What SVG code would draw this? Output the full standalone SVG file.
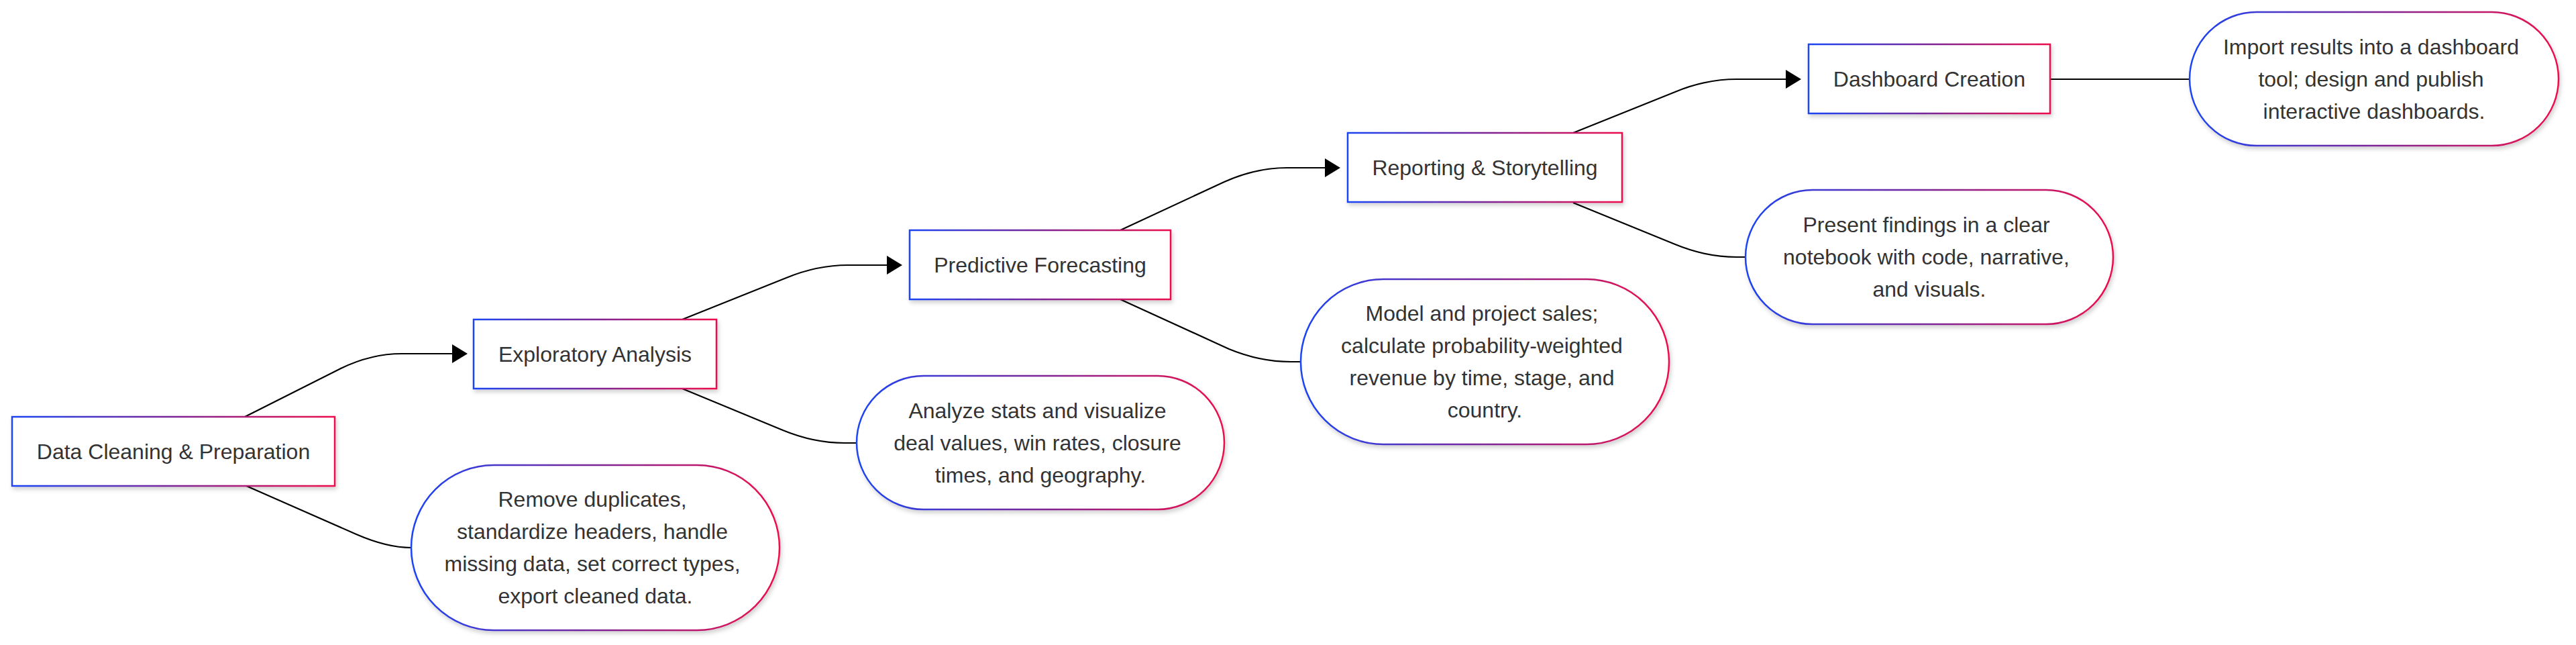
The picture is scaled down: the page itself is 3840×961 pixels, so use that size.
<svg xmlns="http://www.w3.org/2000/svg" width="3840" height="961" viewBox="0 0 3840 961">
<defs>
<linearGradient id="grad" x1="0" y1="0" x2="1" y2="0">
<stop offset="0" stop-color="#1a44f5"/>
<stop offset="0.5" stop-color="#7c2596"/>
<stop offset="1" stop-color="#ee0f4b"/>
</linearGradient>
<filter id="sh" x="-10%" y="-20%" width="125%" height="150%">
<feDropShadow dx="2" dy="4" stdDeviation="3" flood-color="#000" flood-opacity="0.18"/>
</filter>
<marker id="arr" markerUnits="userSpaceOnUse" markerWidth="23" markerHeight="28" viewBox="0 0 23 28" refX="1" refY="14" orient="auto">
<path d="M0,0 L23,14 L0,28 z" fill="#000"/>
</marker>
<style>
.box{fill:#fff;stroke:url(#grad);stroke-width:2.5;filter:url(#sh)}
.t{font-family:"Liberation Sans",Arial,sans-serif;font-size:32px;fill:#333;text-anchor:middle;dominant-baseline:central}
.e{fill:none;stroke:#000;stroke-width:2.2}
</style>
</defs>
<rect width="3840" height="961" fill="#fff"/>
<g id="connectors">
<path class="e" d="M365,621 L508,549 Q553,527 599,527 L675,527" marker-end="url(#arr)"/>
<path class="e" d="M1017,476 L1172,414 Q1218,395 1264,395 L1323,395" marker-end="url(#arr)"/>
<path class="e" d="M1670,343 L1825,271 Q1872,250 1918,250 L1976,250" marker-end="url(#arr)"/>
<path class="e" d="M2345,198 L2497,137 Q2543,118 2589,118 L2663,118" marker-end="url(#arr)"/>
<path class="e" d="M365,723 L531,796 Q577,816 613,816"/>
<path class="e" d="M1017,579 L1167,641 Q1213,660 1259,660 L1277,660"/>
<path class="e" d="M1670,446 L1832,520 Q1878,539 1924,539 L1939,539"/>
<path class="e" d="M2345,302 L2497,364 Q2543,383 2589,383 L2602,383"/>
<path class="e" d="M3056,118 L3264,118"/>
</g>
<g id="dataCleaning">
<rect class="box" x="18" y="621" width="481" height="103"/>
<text class="t" x="258.5" y="672.5">Data Cleaning &amp; Preparation</text>
</g>
<g id="exploratory">
<rect class="box" x="706" y="476" width="362" height="103"/>
<text class="t" x="887" y="527.5">Exploratory Analysis</text>
</g>
<g id="predictive">
<rect class="box" x="1356" y="343" width="389" height="103"/>
<text class="t" x="1550.5" y="394.5">Predictive Forecasting</text>
</g>
<g id="reporting">
<rect class="box" x="2009" y="198" width="409" height="103"/>
<text class="t" x="2213.5" y="249.5">Reporting &amp; Storytelling</text>
</g>
<g id="dashboard">
<rect class="box" x="2696" y="66" width="360" height="103"/>
<text class="t" x="2876" y="117.5">Dashboard Creation</text>
</g>
<g id="cleaningDetail">
<rect class="box" x="613" y="693" width="549" height="246" rx="123" ry="123"/>
<text class="t" x="883" y="744">Remove duplicates,</text>
<text class="t" x="883" y="792">standardize headers, handle</text>
<text class="t" x="883" y="840">missing data, set correct types,</text>
<text class="t" x="887.5" y="888">export cleaned data.</text>
</g>
<g id="exploratoryDetail">
<rect class="box" x="1277" y="560" width="548" height="199" rx="99.5" ry="99.5"/>
<text class="t" x="1546.5" y="611.5">Analyze stats and visualize</text>
<text class="t" x="1546.5" y="659.5">deal values, win rates, closure</text>
<text class="t" x="1551" y="707.5">times, and geography.</text>
</g>
<g id="predictiveDetail">
<rect class="box" x="1939" y="416" width="549" height="246" rx="123" ry="123"/>
<text class="t" x="2209" y="467">Model and project sales;</text>
<text class="t" x="2209" y="515">calculate probability-weighted</text>
<text class="t" x="2209" y="563">revenue by time, stage, and</text>
<text class="t" x="2213.5" y="611">country.</text>
</g>
<g id="reportingDetail">
<rect class="box" x="2602" y="283" width="548" height="200" rx="100" ry="100"/>
<text class="t" x="2871.5" y="335">Present findings in a clear</text>
<text class="t" x="2871.5" y="383">notebook with code, narrative,</text>
<text class="t" x="2876" y="431">and visuals.</text>
</g>
<g id="dashboardDetail">
<rect class="box" x="3264" y="18" width="550" height="199" rx="99.5" ry="99.5"/>
<text class="t" x="3534.5" y="69.5">Import results into a dashboard</text>
<text class="t" x="3534.5" y="117.5">tool; design and publish</text>
<text class="t" x="3539" y="165.5">interactive dashboards.</text>
</g>
</svg>
